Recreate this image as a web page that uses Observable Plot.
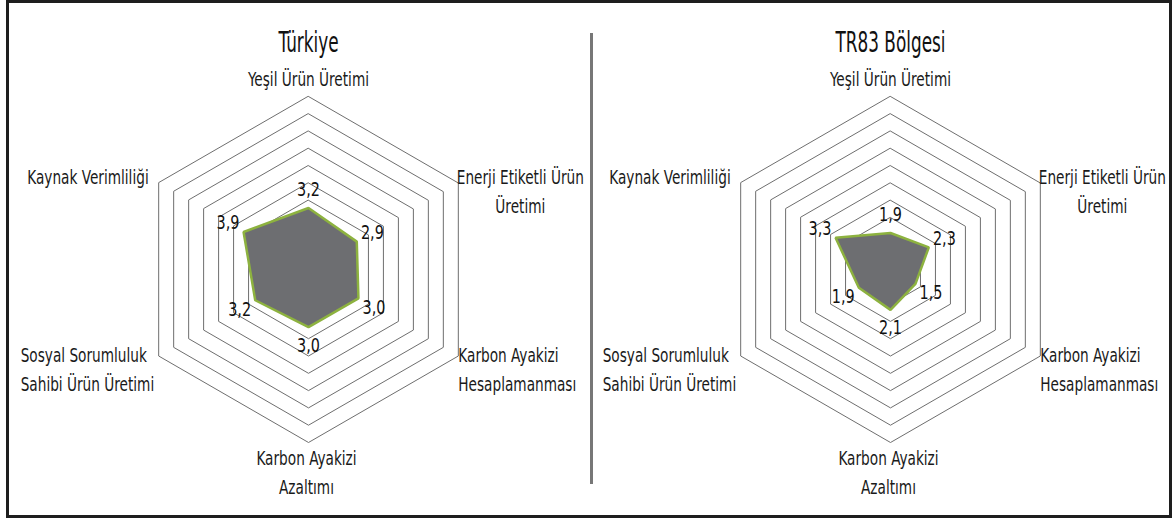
<!DOCTYPE html>
<html>
<head>
<meta charset="utf-8">
<script src="https://cdn.jsdelivr.net/npm/d3@7"></script>
<script src="https://cdn.jsdelivr.net/npm/@observablehq/plot@0.6"></script>
<style>
  html, body { margin: 0; padding: 0; background: #fff; }
  #wrap { position: relative; width: 1172px; height: 519px; overflow: hidden; }
  .frame { position: absolute; left: 6px; top: 0; width: 1166px; height: 518px; border: 3px solid #1e1e1e; box-sizing: border-box; }
  .sep { position: absolute; left: 590px; top: 33px; width: 3px; height: 451px; background: #777; }
  .chart { position: absolute; top: 0; }
  .chart svg { background: transparent !important; overflow: visible; }
</style>
</head>
<body>
<div id="wrap">
  <div class="frame"></div>
  <div class="sep"></div>
  <div id="left" class="chart" style="left:0px"></div>
  <div id="right" class="chart" style="left:582px"></div>
</div>
<script>
const axisNames = [
  "Yeşil Ürün Üretimi",
  "Enerji Etiketli Ürün\nÜretimi",
  "Karbon Ayakizi\nHesaplamanması",
  "Karbon Ayakizi\nAzaltımı",
  "Sosyal Sorumluluk\nSahibi Ürün Üretimi",
  "Kaynak Verimliliği"
];
const turkiyeValues = [3.2, 2.9, 3.0, 3.0, 3.2, 3.9];
const tr83Values = [1.9, 2.3, 1.5, 2.1, 1.9, 3.3];
const chartTitles = ["Türkiye", "TR83 Bölgesi"];
const gridLevels = [0.9, 1.8, 2.7, 3.6, 4.5, 5.4, 6.3, 7.2, 8.1, 9.0];

const FONT = "'Liberation Sans Narrow', 'Arial Narrow', 'DejaVu Sans Condensed', sans-serif";
const SQUEEZE = 0.8, TITLE_SQUEEZE = 0.67;
const fmt = v => d3.format(".1f")(v).replace(".", ",");

function radar(title, values, width) {
  const R = gridLevels[gridLevels.length - 1];
  const side = 346, mL = 135, mT = 96, H = 519;
  const pxPerUnit = side / (2 * R);
  const ang = i => i * Math.PI / 3;
  const pt = (r, i) => ({x: r * Math.sin(ang(i)), y: r * Math.cos(ang(i))});
  const grid = gridLevels.flatMap(level => axisNames.map((_, i) => ({level, ...pt(level, i)})));
  const poly = values.map((v, i) => ({v, ...pt(v, i)}));
  const valLabels = values.map((v, i) => ({t: fmt(v), ...pt(v + 18 / pxPerUnit, i)}));
  const place = [
    {anchor: "middle", line: "bottom", dx: 0, dy: -11},
    {anchor: "middle", line: "top", dx: 62, dy: -19},
    {anchor: "start", line: "top", dx: 0, dy: -14},
    {anchor: "middle", line: "top", dx: -2, dy: 2},
    {anchor: "start", line: "top", dx: -138, dy: -14},
    {anchor: "end", line: "top", dx: -10, dy: -19}
  ];
  const labelMarks = axisNames.map((name, i) => Plot.text([{name, ...pt(R, i)}], {
    x: "x", y: "y", text: "name",
    textAnchor: place[i].anchor, lineAnchor: place[i].line,
    dx: place[i].dx, dy: place[i].dy,
    fontSize: 19, lineHeight: 1.52, fill: "#1a1a1a", fontFamily: FONT
  }));
  const svg = Plot.plot({
    width, height: H,
    marginLeft: mL, marginRight: width - mL - side,
    marginTop: mT, marginBottom: H - mT - side,
    x: {domain: [-R, R], axis: null},
    y: {domain: [-R, R], axis: null},
    style: {fontFamily: FONT, background: "transparent", overflow: "visible"},
    marks: [
      Plot.line(grid, {x: "x", y: "y", z: "level", curve: "linear-closed", stroke: "#6e6e6e", strokeWidth: 1}),
      Plot.line(poly, {x: "x", y: "y", curve: "linear-closed", fill: "#6d6e71", stroke: "#8db23f", strokeWidth: 2.5, strokeLinejoin: "miter"}),
      Plot.text(valLabels, {x: "x", y: "y", text: "t", fontSize: 20, fill: "#111", fontFamily: FONT}),
      ...labelMarks,
      Plot.text([{t: title, x: 0, y: R}], {x: "x", y: "y", text: "t", lineAnchor: "bottom", dy: -45, fontSize: 28, fill: "#111", fontFamily: FONT})
    ]
  });
  // condensed look: squeeze glyphs horizontally around each text's anchor
  svg.querySelectorAll("text").forEach(t => {
    const k = t.textContent === title ? TITLE_SQUEEZE : SQUEEZE;
    t.setAttribute("transform", (t.getAttribute("transform") || "") + ` scale(${k},1)`);
  });
  return svg;
}

document.getElementById("left").appendChild(radar(chartTitles[0], turkiyeValues, 582));
document.getElementById("right").appendChild(radar(chartTitles[1], tr83Values, 590));
</script>
</body>
</html>
